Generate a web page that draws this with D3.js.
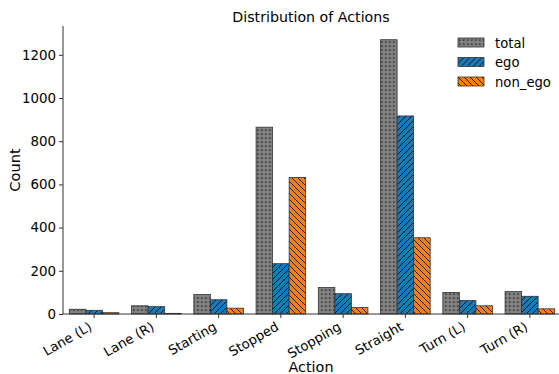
<!DOCTYPE html>
<html>
<head>
<meta charset="utf-8">
<script src="https://cdn.jsdelivr.net/npm/d3@7"></script>
<style>
body{margin:0;background:#fff;}
text{font-family:"DejaVu Sans",sans-serif;fill:#000;}
</style>
</head>
<body>
<div id="chart"></div>
<script>
// data
var categories=["Lane (L)","Lane (R)","Starting","Stopped","Stopping","Straight","Turn (L)","Turn (R)"];
var seriesNames=["total","ego","non_ego"];
var totalValues=[22,38,90,865,123,1270,100,104];
var egoValues=[17,34,66,233,94,917,62,82];
var nonEgoValues=[6,3,27,632,30,353,38,24];
var yTicks=[0,200,400,600,800,1000,1200];

var seriesValues=[totalValues,egoValues,nonEgoValues];
var colors=["#808080","#1f77b4","#ff7f0e"];
var hatchIds=["hDots","hFwd","hBack"];

var W=559,H=374;
var plotL=63,plotR=561,plotT=26,plotB=314;

var svg=d3.select("#chart").append("svg")
    .attr("width",W).attr("height",H);

//hatch patterns
var defs=svg.append("defs");
function makePattern(id,color,kind){
    var p=defs.append("pattern").attr("id",id)
        .attr("patternUnits","userSpaceOnUse");
    if(kind==="dots"){
        p.attr("width",4).attr("height",4);
        p.append("rect").attr("width",4).attr("height",4).attr("fill",color);
        p.append("rect").attr("x",1).attr("y",1.5).attr("width",1.6).attr("height",1.2).attr("fill","#222");
    }else{
        p.attr("width",6).attr("height",6);
        p.append("rect").attr("width",6).attr("height",6).attr("fill",color);
        var d=kind==="fwd"?"M-1,1 L1,-1 M0,6 L6,0 M5,7 L7,5":"M-1,5 L1,7 M0,0 L6,6 M5,-1 L7,1";
        p.append("path").attr("d",d).attr("stroke","#111").attr("stroke-width",0.9);
    }
}
makePattern("hDots",colors[0],"dots");
makePattern("hFwd",colors[1],"fwd");
makePattern("hBack",colors[2],"back");

var x=d3.scaleBand().domain(categories).range([plotL,plotR]).padding(0);
var inner=d3.scaleBand().domain(seriesNames).range([-24.8,24.8]);
var y=d3.scaleLinear().domain([0,1333.5]).range([plotB,plotT]);

// bars
for(var s=0;s<seriesNames.length;s++){
    svg.append("g").selectAll("rect")
        .data(seriesValues[s])
        .enter().append("rect")
        .attr("x",function(d,i){return x(categories[i])+x.bandwidth()/2+inner(seriesNames[s]);})
        .attr("y",function(d){return y(d);})
        .attr("width",inner.bandwidth())
        .attr("height",function(d){return y(0)-y(d);})
        .attr("fill","url(#"+hatchIds[s]+")")
        .attr("stroke","#333").attr("stroke-width",0.8);
}

// axes
var yAxis=svg.append("g").attr("transform","translate("+plotL+",0)")
    .call(d3.axisLeft(y).tickValues(yTicks).tickFormat(d3.format("d")).tickSize(4).tickPadding(3));
yAxis.select(".domain").attr("d","M0,"+plotT+"V"+plotB).attr("stroke","#333");
yAxis.selectAll(".tick line").attr("stroke","#333");
yAxis.selectAll("text").style("font-size","13.4px").attr("fill","#000");

var xAxis=svg.append("g").attr("transform","translate(0,"+plotB+")")
    .call(d3.axisBottom(x).tickSize(4).tickSizeOuter(0));
xAxis.select(".domain").attr("d","M"+plotL+",0H"+plotR).attr("stroke","#333");
xAxis.selectAll(".tick line").attr("stroke","#333");
xAxis.selectAll("text")
    .style("font-size","13.2px")
    .attr("fill","#000")
    .attr("text-anchor","end")
    .attr("dy",null)
    .attr("y",null)
    .attr("dominant-baseline","hanging")
    .attr("transform","translate(-6,7) rotate(-30)");

// titles
svg.append("text").attr("x",(plotL+W)/2).attr("y",22)
    .attr("text-anchor","middle").style("font-size","14.2px")
    .text("Distribution of Actions");
svg.append("text").attr("x",(plotL+W)/2).attr("y",372)
    .attr("text-anchor","middle").style("font-size","14.4px")
    .text("Action");
svg.append("text").attr("transform","translate(20,170) rotate(-90)")
    .attr("text-anchor","middle").style("font-size","14.6px")
    .text("Count");

// legend
var legend=svg.append("g").attr("transform","translate(458,38)");
for(var i=0;i<seriesNames.length;i++){
    var row=legend.append("g").attr("transform","translate(0,"+(i*19.5)+")");
    row.append("rect").attr("width",26).attr("height",9)
        .attr("fill","url(#"+hatchIds[i]+")")
        .attr("stroke","#333").attr("stroke-width",0.8);
    row.append("text").attr("x",37).attr("y",9.5)
        .style("font-size","13.2px").text(seriesNames[i]);
}
</script>
</body>
</html>
